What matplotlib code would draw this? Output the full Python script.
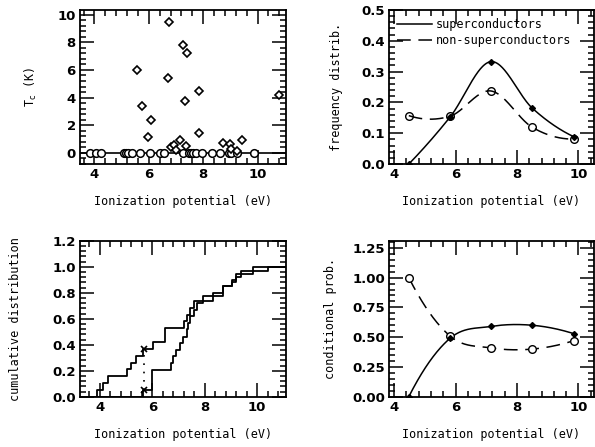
import numpy as np
import matplotlib
matplotlib.use("Agg")
import matplotlib.pyplot as plt
from matplotlib.ticker import MultipleLocator, AutoMinorLocator

# --- top left: Tc vs ionization potential ---
sc_ip = [6.74, 7.26, 7.40, 5.56, 6.71, 7.86, 10.79, 5.75, 7.33, 6.07, 5.96, 7.86,
         7.16, 8.72, 9.00, 9.42, 7.35, 6.81, 6.93, 7.00, 9.01, 9.26]
sc_tc = [9.5, 7.8, 7.2, 6.0, 5.4, 4.5, 4.15, 3.4, 3.75, 2.4, 1.15, 1.4,
         0.95, 0.68, 0.6, 0.92, 0.5, 0.44, 0.56, 0.2, 0.27, 0.15]
non_ip = [3.85, 4.05, 4.25, 5.07, 5.17, 5.25, 5.37, 5.68, 6.05, 6.42, 6.54, 7.27,
          7.46, 7.54, 7.64, 7.73, 7.95, 8.32, 8.62, 8.93, 9.03, 9.24, 9.85]

# --- top right / bottom right: binned distributions ---
bin_ip = [4.48, 5.82, 7.15, 8.50, 9.84]
freq_sc = [0.0, 0.152, 0.332, 0.181, 0.089]
freq_non = [0.157, 0.155, 0.237, 0.119, 0.081]
cond_sc = [0.0, 0.49, 0.59, 0.60, 0.53]
cond_non = [1.0, 0.51, 0.41, 0.40, 0.47]

# --- bottom left: cumulative distributions (step positions, levels) ---
cum_non_x = [3.87, 4.10, 4.32, 5.05, 5.20, 5.38, 5.65, 6.03, 6.47, 7.22, 7.32,
             7.45, 7.60, 8.32, 8.68, 9.03, 9.20, 9.85]
cum_non_y = [0.053, 0.105, 0.158, 0.211, 0.263, 0.316, 0.368, 0.421, 0.526, 0.579,
             0.632, 0.684, 0.737, 0.80, 0.85, 0.90, 0.947, 1.0]
cum_sc_x = [5.65, 5.97, 6.70, 6.80, 6.92, 7.05, 7.18, 7.31, 7.38, 7.45, 7.58,
            7.70, 7.94, 8.70, 9.03, 9.20, 9.40, 10.42]
cum_sc_y = [0.052, 0.207, 0.26, 0.31, 0.36, 0.41, 0.46, 0.52, 0.57, 0.62, 0.67,
            0.72, 0.774, 0.85, 0.88, 0.92, 0.968, 1.0]
ks_x = 5.68
ks_y = [0.052, 0.37]

MONO = "DejaVu Sans Mono"
plt.rcParams["font.family"] = "DejaVu Sans"
plt.rcParams["mathtext.fontset"] = "dejavusans"


def smooth(x, y, n=300):
    # cubic Hermite curve through the points (Catmull-Rom style tangents)
    x = np.asarray(x, float)
    y = np.asarray(y, float)
    k = len(x)
    d = np.diff(y) / np.diff(x)
    m = np.zeros(k)
    m[1:-1] = (y[2:] - y[:-2]) / (x[2:] - x[:-2])
    m[0] = 2 * d[0] - m[1]
    m[-1] = 2 * d[-1] - m[-2]
    xs = np.linspace(x[0], x[-1], n)
    j = np.clip(np.searchsorted(x, xs) - 1, 0, k - 2)
    h = x[j + 1] - x[j]
    t = (xs - x[j]) / h
    h00 = 2 * t**3 - 3 * t**2 + 1
    h10 = t**3 - 2 * t**2 + t
    h01 = -2 * t**3 + 3 * t**2
    h11 = t**3 - t**2
    ys = h00 * y[j] + h10 * h * m[j] + h01 * y[j + 1] + h11 * h * m[j + 1]
    return xs, ys


def style(ax, xlim, ylim, ymaj, ylabel, ylab_x):
    ax.set_xlim(*xlim)
    ax.set_ylim(*ylim)
    ax.xaxis.set_major_locator(MultipleLocator(2))
    ax.xaxis.set_minor_locator(AutoMinorLocator(5))
    ax.yaxis.set_major_locator(MultipleLocator(ymaj))
    ax.yaxis.set_minor_locator(AutoMinorLocator(5))
    ax.tick_params(which="both", direction="in", top=True, right=True,
                   width=1.1, labelsize=9.5, pad=3)
    ax.tick_params(which="major", length=10)
    ax.tick_params(which="minor", length=4)
    for lab in ax.get_xticklabels() + ax.get_yticklabels():
        lab.set_fontweight("semibold")
    for s in ax.spines.values():
        s.set_linewidth(1.3)
    ax.set_xlabel("Ionization potential (eV)", family=MONO, fontsize=8.5)
    ax.xaxis.set_label_coords(0.5, -0.2)
    ax.set_ylabel(ylabel, family=MONO, fontsize=8.5)
    ax.yaxis.set_label_coords(ylab_x, 0.5)


fig = plt.figure(figsize=(5.95, 4.47), dpi=100)
W, H = 0.346, 0.345
ax1 = fig.add_axes([0.1345, 0.633, W, H])
ax2 = fig.add_axes([0.654, 0.633, W - 0.002, H])
ax3 = fig.add_axes([0.1345, 0.1125, W, 0.349])
ax4 = fig.add_axes([0.654, 0.1125, W - 0.002, 0.349])

# top left
ax1.axhline(0, color="black", lw=1.2)
ax1.plot(non_ip, np.zeros(len(non_ip)), "o", ms=5.5, mfc="white", mec="black", mew=1.1)
ax1.plot(sc_ip, sc_tc, "D", ms=4.2, mfc="white", mec="black", mew=1.2)
ax1.yaxis.set_major_formatter(plt.FormatStrFormatter("%d"))
style(ax1, (3.47, 11.04), (-0.82, 10.36), 2, r"T$_\mathrm{c}$ (K)", -0.2)

# top right
xs, ys = smooth(bin_ip, freq_sc)
ax2.plot(xs, ys, color="black", lw=1.1, label="superconductors")
xs, ys = smooth(bin_ip, freq_non)
ax2.plot(xs, ys, color="black", lw=1.1, dashes=(9, 5), label="non-superconductors")
ax2.plot(bin_ip, freq_non, "o", ms=5.5, mfc="none", mec="black", mew=1.0)
ax2.plot(bin_ip, freq_sc, "D", ms=3, color="black")
ax2.yaxis.set_major_formatter(plt.FormatStrFormatter("%.1f"))
style(ax2, (3.84, 10.5), (0, 0.5), 0.1, "frequency distrib.", -0.225)
ax2.legend(loc="upper left", frameon=False, prop={"family": MONO, "size": 8.5},
           handlelength=2.9, handletextpad=0.35, borderaxespad=0.3,
           labelspacing=0.25)

# bottom left
ax3.step(np.r_[3.24, cum_non_x, 11.1], np.r_[0, cum_non_y, cum_non_y[-1]],
         where="post", color="black", lw=1.3)
ax3.step(np.r_[3.24, cum_sc_x, 11.1], np.r_[0, cum_sc_y, cum_sc_y[-1]],
         where="post", color="black", lw=1.3)
ax3.plot([ks_x, ks_x], ks_y, color="black", lw=1.2, ls=(0, (1, 4)))
ax3.plot([ks_x, ks_x], ks_y, "x", color="black", ms=5, mew=1.2)
ax3.yaxis.set_major_formatter(plt.FormatStrFormatter("%.1f"))
style(ax3, (3.24, 11.1), (0, 1.2), 0.2, "cumulative distribution", -0.28)

# bottom right
xs, ys = smooth(bin_ip, cond_sc)
ax4.plot(xs, ys, color="black", lw=1.1)
xs, ys = smooth(bin_ip, cond_non)
ax4.plot(xs, ys, color="black", lw=1.1, dashes=(9, 5))
ax4.plot(bin_ip, cond_non, "o", ms=5.5, mfc="white", mec="black", mew=1.0)
ax4.plot(bin_ip, cond_sc, "D", ms=3, color="black")
ax4.yaxis.set_major_formatter(plt.FormatStrFormatter("%.2f"))
style(ax4, (3.84, 10.5), (0, 1.31), 0.25, "conditional prob.", -0.255)

fig.savefig("out.png", dpi=100)
